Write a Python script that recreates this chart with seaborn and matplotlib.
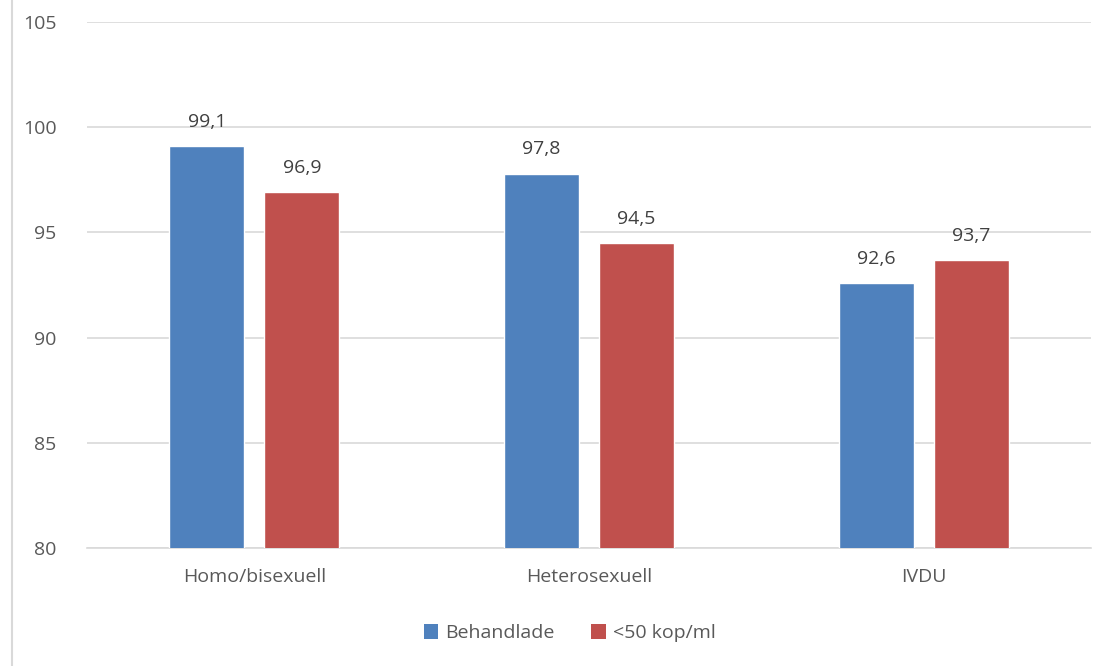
import matplotlib
matplotlib.use("Agg")
import matplotlib.pyplot as plt
import seaborn as sns
import pandas as pd
from matplotlib.lines import Line2D
from matplotlib.patches import Patch

categories = ["Homo/bisexuell", "Heterosexuell", "IVDU"]
series_names = ["Behandlade", "<50 kop/ml"]
behandlade = [99.1, 97.8, 92.6]
under_50 = [96.9, 94.5, 93.7]
y_ticks = [80, 85, 90, 95, 100, 105]
colors = ["#4F81BD", "#C0504D"]

df = pd.DataFrame({
    "grupp": categories * 2,
    "serie": [series_names[0]] * 3 + [series_names[1]] * 3,
    "varde": behandlade + under_50,
})

sns.set_theme(style="white")
plt.rcParams["font.family"] = ["Open Sans", "DejaVu Sans"]
text_color = "#595959"

fig = plt.figure(figsize=(11.1, 6.66), dpi=100)
ax = fig.add_axes([0.0784, 0.177, 0.9046, 0.790])

sns.barplot(data=df, x="grupp", y="varde", hue="serie", order=categories,
            hue_order=series_names, palette=colors, width=0.568, gap=0.21,
            saturation=1, ax=ax, legend=False, zorder=3)

ax.set_ylim(80, 105)
ax.set_xlim(-0.5, 2.5)
ax.set_yticks(y_ticks)
ax.set_yticklabels([str(t) for t in y_ticks])
ax.yaxis.grid(True, color="#D9D9D9", linewidth=1.2, zorder=0)
ax.set_axisbelow(True)
for s in ["top", "right", "left"]:
    ax.spines[s].set_visible(False)
ax.spines["bottom"].set_color("#D9D9D9")
ax.spines["bottom"].set_linewidth(1.2)
ax.set_xlabel("")
ax.set_ylabel("")
ax.tick_params(axis="both", length=0, labelsize=14, labelcolor=text_color)
ax.tick_params(axis="y", pad=22)
ax.tick_params(axis="x", pad=14)

for container in ax.containers:
    ax.bar_label(container, labels=[f"{v:.1f}".replace(".", ",") for v in container.datavalues],
                 padding=11, fontsize=14, color="#404040")

handles = [Patch(facecolor=c, edgecolor="none") for c in colors]
fig.legend(handles, series_names, loc="center", bbox_to_anchor=(0.513, 0.049), ncol=2,
           frameon=False, fontsize=14, labelcolor=text_color, handlelength=0.75,
           handleheight=0.75, handletextpad=0.35, columnspacing=1.9)

fig.add_artist(Line2D([0.0104, 0.0104], [0, 1], transform=fig.transFigure,
                      color="#D9D9D9", linewidth=1.5))

fig.savefig("out.png", dpi=100, facecolor="white")
